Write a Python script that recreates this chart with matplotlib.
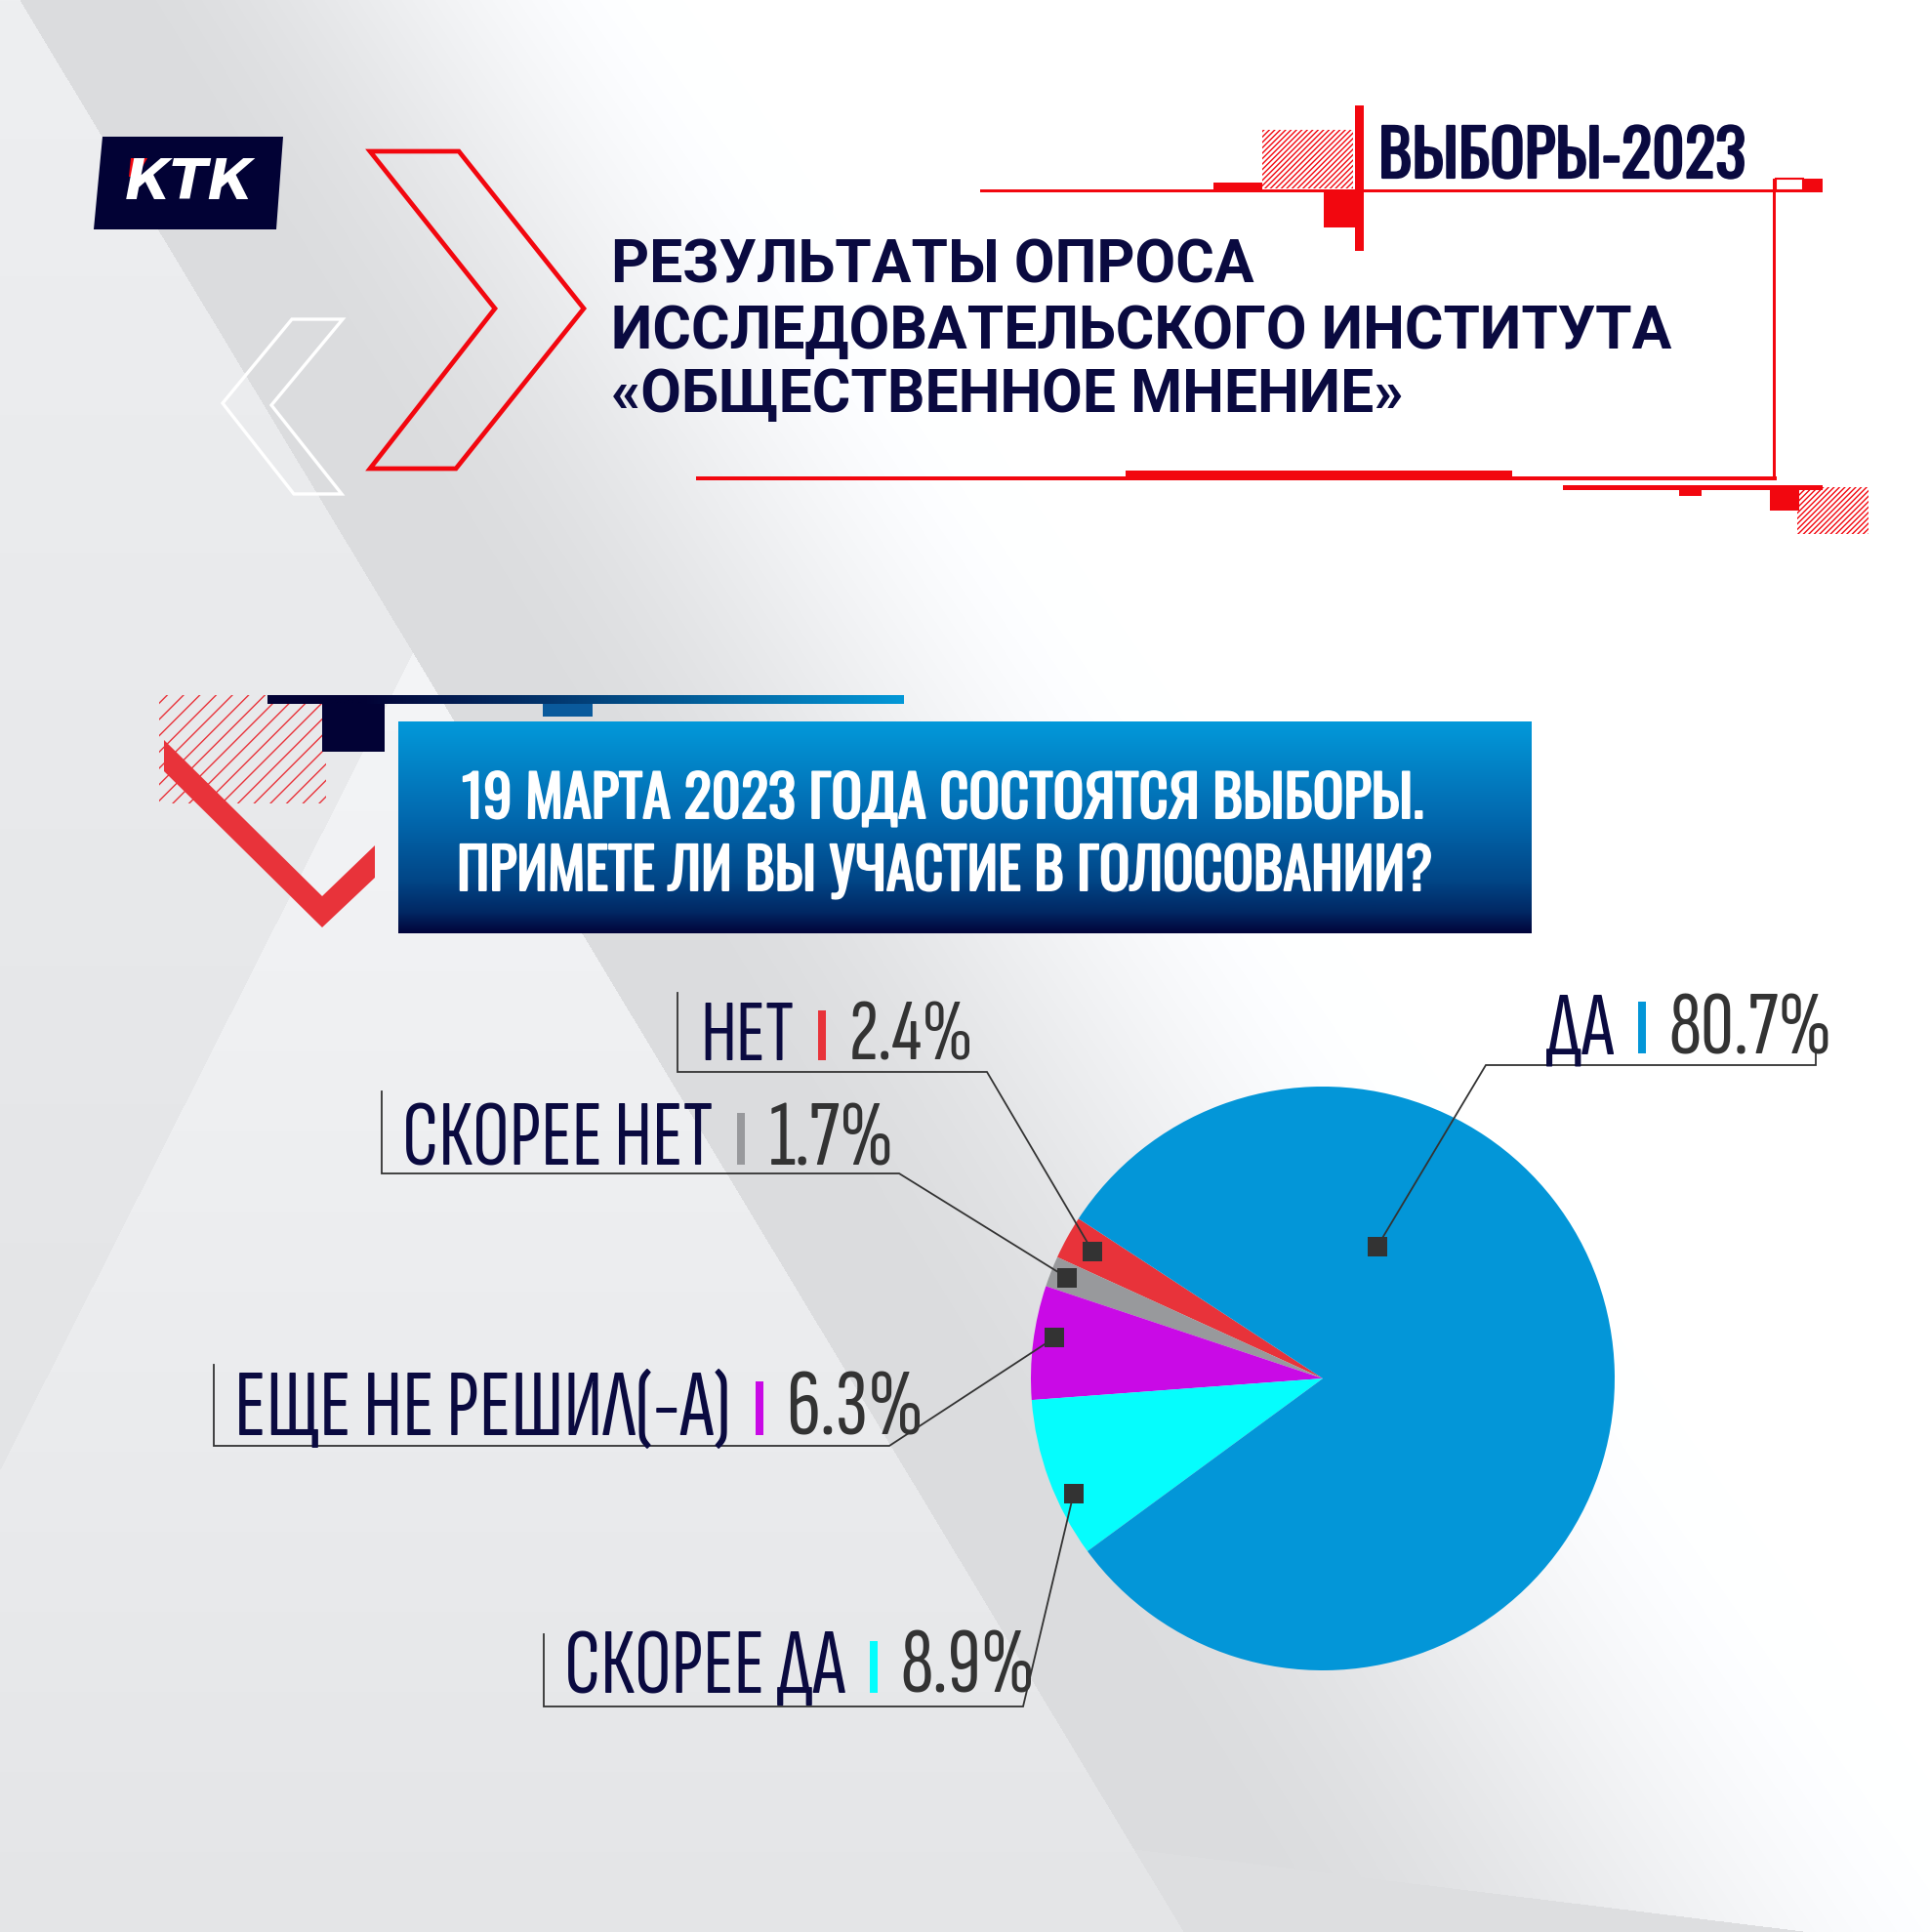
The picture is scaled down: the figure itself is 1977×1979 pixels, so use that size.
import numpy as np
import matplotlib
matplotlib.use("Agg")
import matplotlib.pyplot as plt
import matplotlib.patheffects as pe
from matplotlib.patches import Polygon, Rectangle
from matplotlib.font_manager import FontProperties, findfont
from matplotlib.textpath import TextPath

W, H = 1977, 1979
DPI = 100

# --- data -------------------------------------------------------------
categories = ["НЕТ", "СКОРЕЕ НЕТ", "ЕЩЕ НЕ РЕШИЛ(-А)", "СКОРЕЕ ДА", "ДА"]
shares = [2.4, 1.7, 6.3, 8.9, 80.7]
slice_colors = ["#e8333a", "#98999c", "#c90ae6", "#05fdfd", "#0396d8"]

title_lines = ["РЕЗУЛЬТАТЫ ОПРОСА",
               "ИССЛЕДОВАТЕЛЬСКОГО ИНСТИТУТА",
               "«ОБЩЕСТВЕННОЕ МНЕНИЕ»"]
question_lines = ["19 МАРТА 2023 ГОДА СОСТОЯТСЯ ВЫБОРЫ.",
                  "ПРИМЕТЕ ЛИ ВЫ УЧАСТИЕ В ГОЛОСОВАНИИ?"]
badge = "ВЫБОРЫ-2023"

# label layout (pixels of the 1977x1979 canvas)
label_x = [717, 412, 240, 578, 1583]
label_end = [998, 916, 946, 1061, 1878]
label_base = [1086, 1193, 1470, 1734, 1079]
bracket_x = [694, 391, 219, 557, 1860]
bracket_top = [1017, 1118, 1398, 1674, 1075]
line_y = [1098, 1202, 1481, 1748, 1091]
elbow_x = [1011, 921, 911, 1048, 1522]
marker_r = [0.90, 0.94, 0.93, 0.94, 0.49]
marker_shift = [0, 0, -1.5, 4.5, 66]
START_ANGLE = 146.8

NAVY = "#0a0a40"
RED = "#f2070f"
DARK = "#333333"
plt.rcParams["hatch.linewidth"] = 1.0


def pick(fams):
    for f in fams:
        try:
            findfont(FontProperties(family=f), fallback_to_default=False)
            return f
        except Exception:
            continue
    return "DejaVu Sans"


LABEL_FONT = pick(["Sofia Sans Extra Condensed", "Fira Sans Extra Condensed", "Roboto Condensed"])
BOLD_COND = pick(["Oswald", "Fira Sans Extra Condensed", "Roboto Condensed"])
TITLE_FONT = pick(["Roboto", "Liberation Sans"])


def cap_size(family, weight, cap_px):
    fp = FontProperties(family=family, weight=weight)
    ext = TextPath((0, 0), "H", size=100, prop=fp).get_extents()
    return cap_px * 100.0 / ext.height * 72.0 / DPI


def width_of(t):
    return t.get_window_extent(renderer).width


def background():
    yy, xx = np.mgrid[0:H, 0:W].astype(float)
    val = 238 - 14 * yy / H
    xd1 = 20 + 0.6025 * yy
    right = xx > xd1
    xd2 = 424 - (yy - 666) * (424 / 839)
    tri = (~right) & (yy > 666) & (xx > xd2)
    val = np.where(tri, 244 - 16 * (yy - 666) / 1313, val)
    t = np.clip((xx - (100 + 0.6 * yy)) / (600 + 0.1 * yy), 0, 1)
    t = t * t * (3 - 2 * t)
    val = np.where(right, 219 + 36 * t, val)
    below = right & (yy > 1894 + (xx - 1161) * 0.1225)
    val = np.where(below, 221, val)
    img = np.stack([val, val + 1, val + 3], axis=-1)
    return np.clip(img, 0, 255).astype(np.uint8)


fig = plt.figure(figsize=(W / DPI, H / DPI), dpi=DPI)
renderer = fig.canvas.get_renderer()
bg = fig.add_axes([0, 0, 1, 1])
bg.imshow(background(), extent=(0, W, H, 0), aspect="auto", interpolation="bilinear", zorder=0)

# --- header decorations --------------------------------------------------
bg.add_patch(Polygon([(105, 140), (290, 140), (283, 235), (96, 235)], closed=True,
                     fc="#020235", ec="none", zorder=2))
bg.add_patch(Polygon([(134, 162), (151, 162), (140, 181), (132, 181)], fc=RED, ec="none", zorder=4))

bg.add_patch(Polygon([(379, 155), (470, 155), (598, 316), (467, 480), (379, 480), (507, 316)],
                     closed=True, fill=False, ec=RED, lw=3.4, joinstyle="miter", zorder=2))
bg.add_patch(Polygon([(299, 327), (351, 327), (278, 415), (350, 506), (301, 506), (228, 413)],
                     closed=True, fill=False, ec="white", lw=2.4, joinstyle="miter", zorder=2))

red_rects = [(1004, 193.5, 863, 3.5), (1243, 187, 50, 10), (1388, 108, 9, 149), (1356, 197, 37, 36),
             (1847, 183, 20, 14), (1153, 482, 396, 10), (713, 488, 1107, 4), (1816, 183, 3, 309),
             (1601, 497, 266, 5), (1720, 502, 23, 6), (1813, 497, 30, 26)]
for x, y, w, h in red_rects:
    bg.add_patch(Rectangle((x, y), w, h, fc=RED, ec="none", zorder=2))
bg.add_patch(Rectangle((1819, 183), 28, 12, fill=False, ec=RED, lw=1.5, zorder=2))
for x, y, w, h in [(1293, 133, 93, 60), (1841, 499, 73, 48)]:
    bg.add_patch(Rectangle((x, y), w, h, fill=False, ec=RED, lw=0, hatch="//////", zorder=2))

# --- question box decorations ------------------------------------------
bg.add_patch(Rectangle((163, 712), 171, 111, fill=False, ec="#e8333a", lw=0, hatch="//", zorder=2))
bg.add_patch(Polygon([(168, 758), (330, 918), (384, 866), (384, 899), (330, 950), (168, 790)],
                     closed=True, fc="#e8333a", ec="none", zorder=3))
navy = np.array([2, 2, 53]) / 255
light = np.array([3, 152, 216]) / 255
s = np.clip((np.linspace(0, 1, 400) - 0.15) / 0.85, 0, 1)[None, :, None]
bg.imshow(navy + (light - navy) * s, extent=(274, 926, 721, 712), aspect="auto", zorder=2)
bg.add_patch(Rectangle((330, 721), 64, 49, fc="#020235", ec="none", zorder=2))
bg.add_patch(Rectangle((556, 721), 51, 13, fc="#0a5a9c", ec="none", zorder=2))

stops = np.array([[0, 3, 153, 218], [0.45, 2, 105, 175], [0.75, 1, 70, 135],
                  [0.9, 1, 40, 100], [1.0, 2, 4, 58]], dtype=float)
v = np.linspace(0, 1, 300)
grad = np.stack([np.interp(v, stops[:, 0], stops[:, k]) for k in (1, 2, 3)], axis=-1) / 255
bg.imshow(grad[:, None, :], extent=(408, 1569, 956, 739), aspect="auto", zorder=2)

bg.set_xlim(0, W)
bg.set_ylim(H, 0)
bg.axis("off")

# --- pie ------------------------------------------------------------------
CX, CY, R = 1355, 1412, 299
ax_pie = fig.add_axes([(CX - R) / W, (H - CY - R) / H, 2 * R / W, 2 * R / H])
ax_pie.pie(shares, colors=slice_colors, startangle=START_ANGLE, counterclock=True,
           wedgeprops=dict(linewidth=0))
ax_pie.set_aspect("auto")
ax_pie.set_xlim(-1, 1)
ax_pie.set_ylim(-1, 1)
ax_pie.patch.set_visible(False)

# --- overlay for texts and leaders -----------------------------------------
top = fig.add_axes([0, 0, 1, 1])
top.set_xlim(0, W)
top.set_ylim(H, 0)
top.axis("off")
top.patch.set_visible(False)

t = top.text(194, 189, "КТК", color="white", fontsize=cap_size("DejaVu Sans", "bold", 46),
             fontweight="bold", fontstyle="italic", family="DejaVu Sans", ha="center", va="center")
t.set_fontsize(t.get_fontsize() * 132 / width_of(t))

t = top.text(1412, 182, badge, color=NAVY, fontsize=cap_size(BOLD_COND, "bold", 55), fontweight="bold",
             family=BOLD_COND, va="baseline",
             path_effects=[pe.withStroke(linewidth=1.6, foreground=NAVY)])
t.set_fontsize(t.get_fontsize() * 376 / width_of(t))

fs = cap_size(TITLE_FONT, "bold", 45)
probe = top.text(0, 0, title_lines[1], fontsize=fs, fontweight="bold", family=TITLE_FONT)
fs = fs * 1086 / width_of(probe)
probe.remove()
for line, yb in zip(title_lines, [290, 357, 422]):
    top.text(626, yb, line, color=NAVY, fontsize=fs, fontweight="bold", family=TITLE_FONT, va="baseline")

for line, xb, xe, yb in zip(question_lines, [473, 468], [1458, 1467], [838, 912]):
    t = top.text(xb, yb, line, color="white", fontsize=cap_size(BOLD_COND, "bold", 50), fontweight="bold",
                 family=BOLD_COND, va="baseline",
                 path_effects=[pe.withStroke(linewidth=1.4, foreground="white")])
    t.set_fontsize(t.get_fontsize() * (xe - xb) / width_of(t))

# leaders, markers and labels
GAP1, BAR_W, GAP2 = 25, 8, 24
fs0 = cap_size(LABEL_FONT, "normal", 60)
cum = np.cumsum([0] + shares[:-1])
inv = top.transData.inverted()
for i, name in enumerate(categories):
    mid = np.deg2rad(START_ANGLE + 3.6 * (cum[i] + shares[i] / 2) + marker_shift[i])
    px, py = inv.transform(ax_pie.transData.transform((marker_r[i] * np.cos(mid), marker_r[i] * np.sin(mid))))
    top.plot([bracket_x[i], bracket_x[i], elbow_x[i], px], [bracket_top[i], line_y[i], line_y[i], py],
             color=DARK, lw=1.3, solid_joinstyle="miter", zorder=3)
    top.add_patch(Rectangle((px - 10, py - 10), 20, 20, fc=DARK, ec="none", zorder=4))

    value = f"{shares[i]:.1f}%"
    tn = top.text(label_x[i], label_base[i], name, color=NAVY, fontsize=fs0, family=LABEL_FONT,
                  va="baseline", zorder=5)
    tv = top.text(0, label_base[i], value, color=DARK, fontsize=fs0, family=LABEL_FONT,
                  va="baseline", zorder=5)
    k = (label_end[i] - label_x[i] - GAP1 - BAR_W - GAP2) / (width_of(tn) + width_of(tv))
    tn.set_fontsize(fs0 * k)
    tv.set_fontsize(fs0 * k)
    bar_x = label_x[i] + width_of(tn) + GAP1
    bar_h = 0.86 * 60 * k
    top.add_patch(Rectangle((bar_x, label_base[i] - bar_h), BAR_W, bar_h, fc=slice_colors[i],
                            ec="none", zorder=5))
    tv.set_x(bar_x + BAR_W + GAP2)

fig.savefig("out.png", dpi=DPI)
